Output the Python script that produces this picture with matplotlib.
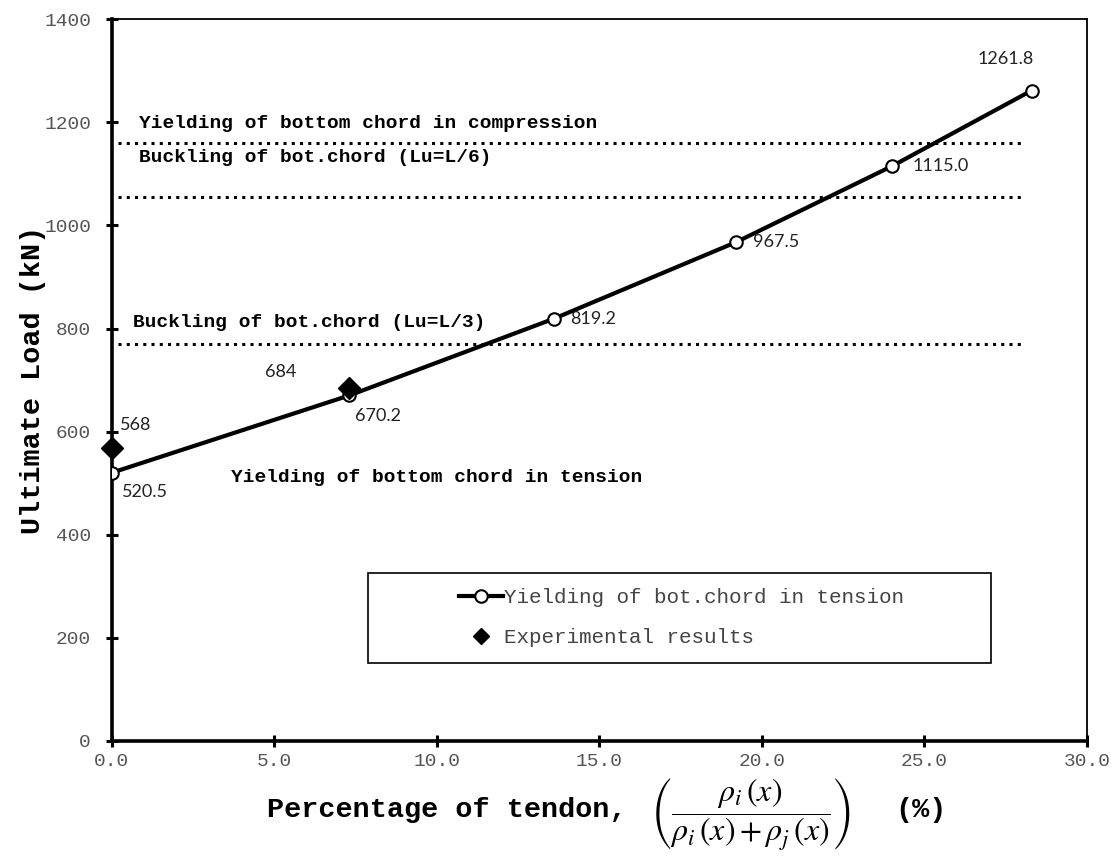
import numpy as np
import matplotlib.pyplot as plt
from matplotlib.patches import Rectangle

plt.rcParams['mathtext.fontset'] = 'stix'

# Teoría: fluencia de la cuerda inferior en tensión
tendon_pct = [0.0, 7.3, 13.6, 19.2, 24.0, 28.3]
carga_teo = [520.5, 670.2, 819.2, 967.5, 1115.0, 1261.8]

# Resultados experimentales
tendon_exp = [0.0, 7.3]
carga_exp = [568, 684]

# Límites de falla (líneas punteadas)
lim_compresion = 1160
lim_pandeo_L6 = 1055
lim_pandeo_L3 = 770
lim_x = [0.2, 28.1]

mono = 'Liberation Mono'
calibri = 'Lato'

fig = plt.figure(figsize=(11.15, 8.6), dpi=100)
ax = fig.add_axes([0.1004, 0.1384, 0.8744, 0.8392])

# Líneas horizontales de límites
for yv in (lim_compresion, lim_pandeo_L6, lim_pandeo_L3):
    ax.plot(lim_x, [yv, yv], color='black', linestyle=(0, (1, 1.7)), linewidth=2.2)

ax.plot(tendon_pct, carga_teo, color='black', linewidth=3.0, marker='o', markersize=9,
        markerfacecolor='white', markeredgecolor='black', markeredgewidth=1.5,
        label='Yielding of bot.chord in tension', zorder=3)
ax.plot(tendon_exp, carga_exp, linestyle='none', marker='D', markersize=11,
        color='black', label='Experimental results', zorder=4, clip_on=False)

# Etiquetas de valores
offsets = [(7, -14, 'left'), (4, -15, 'left'), (12, 0, 'left'),
           (12, 0, 'left'), (15, 0, 'left'), (-19, 23, 'center')]
for x, y, (dx, dy, ha) in zip(tendon_pct, carga_teo, offsets):
    ax.annotate(f'{y:.1f}', (x, y), xytext=(dx, dy), textcoords='offset points',
                ha=ha, va='center', fontsize=13, family=calibri, color='#222222')
exp_offsets = [(6, 17, 'left'), (-49, 12, 'center')]
for x, y, (dx, dy, ha) in zip(tendon_exp, carga_exp, exp_offsets):
    ax.annotate(f'{y}', (x, y), xytext=(dx, dy), textcoords='offset points',
                ha=ha, va='center', fontsize=13, family=calibri, color='#222222')

# Textos de modos de falla
bold = dict(family=mono, fontweight='bold', fontsize=14, color='black', va='center')
ax.text(0.82, 1197, 'Yielding of bottom chord in compression', **bold)
ax.text(0.82, 1132, 'Buckling of bot.chord (Lu=L/6)', **bold)
ax.text(0.65, 812, 'Buckling of bot.chord (Lu=L/3)', **bold)
ax.text(3.65, 512, 'Yielding of bottom chord in tension', **bold)

ax.set_xlim(0, 30)
ax.set_ylim(0, 1400)
ax.set_xticks(np.arange(0, 30.1, 5))
ax.set_yticks(np.arange(0, 1401, 200))
ax.set_xticklabels([f'{v:.1f}' for v in np.arange(0, 30.1, 5)])

for side in ('left', 'bottom'):
    ax.spines[side].set_linewidth(2.6)
for side in ('top', 'right'):
    ax.spines[side].set_linewidth(1.3)
ax.tick_params(direction='inout', length=8, width=2.2, labelsize=14,
               labelcolor='#555555')
ax.tick_params(axis='x', pad=5)
ax.tick_params(axis='y', pad=11)
for lbl in ax.get_xticklabels() + ax.get_yticklabels():
    lbl.set_family(mono)

ax.set_ylabel('Ultimate Load (kN)', family=mono, fontweight='bold', fontsize=20.5, labelpad=-1)

# Etiqueta del eje x en tres partes: texto, fracción y unidades
fig.text(0.5623, 0.0585, 'Percentage of tendon,', ha='right', va='center',
         family=mono, fontweight='bold', fontsize=20.5)
fig.text(0.6735, 0.053, r'$\left(\dfrac{\rho_i\,(x)}{\rho_i\,(x)+\rho_j\,(x)}\right)$',
         ha='center', va='center', fontsize=23)
fig.text(0.8027, 0.0585, '(%)', ha='left', va='center',
         family=mono, fontweight='bold', fontsize=20.5)

# Cuadro de leyenda
ax.add_patch(Rectangle((0.2626, 0.108), 0.639, 0.125, transform=ax.transAxes,
                       fill=False, edgecolor='black', linewidth=1.2, zorder=5))
leg = ax.legend(loc='upper left', bbox_to_anchor=(0.337, 0.238), frameon=False,
                handlelength=2.1, handletextpad=0.05, labelspacing=1.0,
                prop={'family': mono, 'size': 15})
leg.legend_handles[0].set_markersize(9)
leg.legend_handles[1].set_markersize(8)
for t in leg.get_texts():
    t.set_color('#444444')

fig.savefig('out.png', dpi=100)
